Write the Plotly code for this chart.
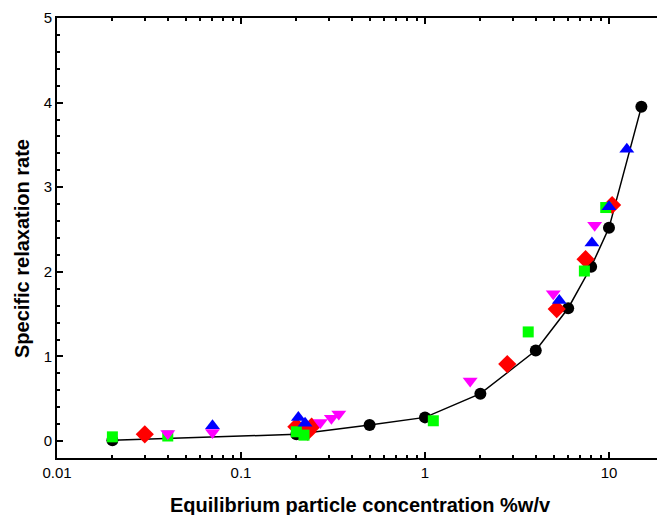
import plotly.graph_objects as go

# Fitted curve / black circles
fit_x = [0.02, 0.2, 0.5, 1, 2, 4, 6, 8, 10, 15]
fit_y = [0.01, 0.08, 0.19, 0.28, 0.56, 1.07, 1.57, 2.06, 2.52, 3.95]

red_x = [0.03, 0.2, 0.23, 0.242, 2.8, 5.2, 7.46, 10.4]
red_y = [0.08, 0.17, 0.11, 0.17, 0.91, 1.56, 2.15, 2.79]

green_x = [0.02, 0.04, 0.2, 0.22, 1.11, 3.64, 7.35, 9.6]
green_y = [0.05, 0.06, 0.11, 0.07, 0.24, 1.29, 2.01, 2.76]

blue_x = [0.07, 0.205, 0.223, 5.37, 8.08, 10.0, 12.5]
blue_y = [0.18, 0.28, 0.21, 1.66, 2.34, 2.77, 3.45]

magenta_x = [0.04, 0.07, 0.27, 0.31, 0.34, 1.76, 4.98, 8.36]
magenta_y = [0.09, 0.10, 0.22, 0.27, 0.32, 0.71, 1.74, 2.55]

x_major = [0.01, 0.1, 1, 10]
x_major_text = ["0.01", "0.1", "1", "10"]
x_minor = [m * d for d in (0.01, 0.1, 1, 10) for m in range(2, 10)]
y_major = [0, 1, 2, 3, 4, 5]

fig = go.Figure()
fig.add_trace(go.Scatter(x=fit_x, y=fit_y, mode="lines+markers",
                         line=dict(color="black", width=1.5),
                         marker=dict(symbol="circle", size=12, color="black"),
                         showlegend=False))
fig.add_trace(go.Scatter(x=red_x, y=red_y, mode="markers",
                         marker=dict(symbol="diamond", size=14, color="#FF0000"),
                         showlegend=False))
fig.add_trace(go.Scatter(x=green_x, y=green_y, mode="markers",
                         marker=dict(symbol="square", size=11, color="#00FF00"),
                         showlegend=False))
fig.add_trace(go.Scatter(x=blue_x, y=blue_y, mode="markers",
                         marker=dict(symbol="triangle-up", size=13, color="#0000FF"),
                         showlegend=False))
fig.add_trace(go.Scatter(x=magenta_x, y=magenta_y, mode="markers",
                         marker=dict(symbol="triangle-down", size=13, color="#FF00FF"),
                         showlegend=False))

font_family = "Liberation Sans, Arial, sans-serif"

fig.update_layout(
    width=657, height=515,
    margin=dict(l=57, r=0, t=18, b=57, autoexpand=False),
    paper_bgcolor="white", plot_bgcolor="white",
    font=dict(family=font_family, size=15, color="black"),
    xaxis=dict(type="log", range=[-2, 1.261], automargin=False,
               tickmode="array", tickvals=x_major, ticktext=x_major_text,
               ticks="inside", ticklen=6, tickwidth=1.5, tickcolor="black",
               showline=True, linecolor="black", linewidth=2, mirror="ticks",
               showgrid=False, zeroline=False,
               minor=dict(tickmode="array", tickvals=x_minor, ticks="inside", ticklen=3,
                          tickwidth=1.5, tickcolor="black", showgrid=False)),
    yaxis=dict(range=[-0.2, 5], tickmode="array", tickvals=y_major, automargin=False,
               ticks="inside", ticklen=6, tickwidth=1.5, tickcolor="black",
               showline=True, linecolor="black", linewidth=2, mirror=False,
               showgrid=False, zeroline=False,
               minor=dict(tickmode="linear", tick0=0, dtick=0.2, ticks="inside", ticklen=3,
                          tickwidth=1.5, tickcolor="black", showgrid=False)),
    annotations=[
        dict(text="<b>Equilibrium particle concentration %w/v</b>",
             xref="paper", yref="paper", x=0.505, y=-0.0, yshift=-47,
             xanchor="center", yanchor="middle", showarrow=False,
             font=dict(size=20, family=font_family)),
        dict(text="<b>Specific relaxation rate</b>",
             xref="paper", yref="paper", x=0, xshift=-35, y=0.475,
             xanchor="center", yanchor="middle", showarrow=False, textangle=-90,
             font=dict(size=20, family=font_family)),
    ],
)

fig.write_html("out.html", config={"displayModeBar": False},
               post_script="document.body.style.margin='0';document.body.style.overflow='hidden';")
